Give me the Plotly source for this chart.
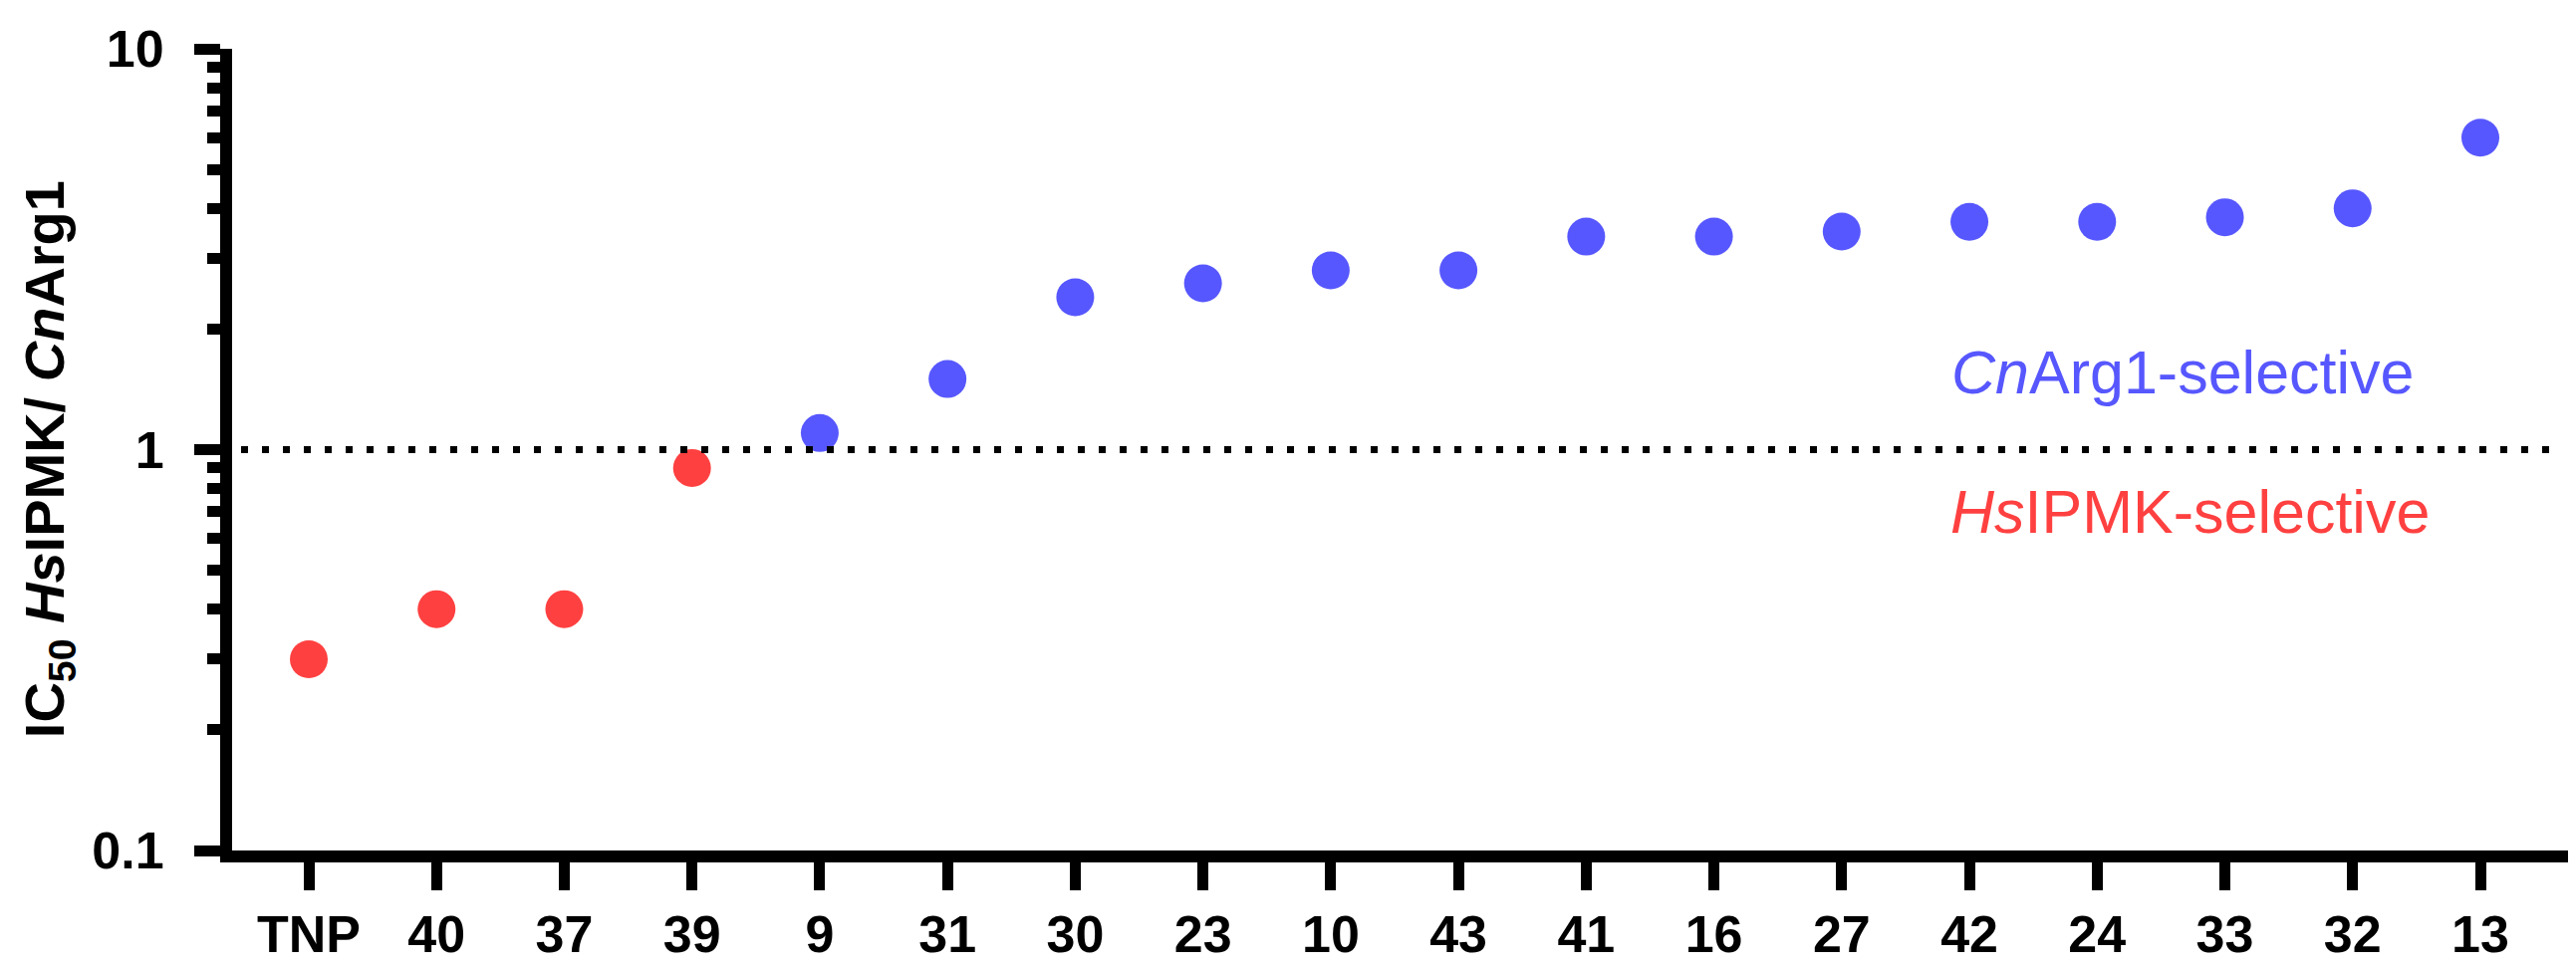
import plotly.graph_objects as go

# ── data ─────────────────────────────────────────────────────────────────────
compounds = ["TNP", "40", "37", "39", "9", "31", "30", "23", "10",
             "43", "41", "16", "27", "42", "24", "33", "32", "13"]
ic50_ratio = [0.30, 0.40, 0.40, 0.90, 1.10, 1.5, 2.4, 2.6, 2.8,
              2.8, 3.4, 3.4, 3.5, 3.7, 3.7, 3.8, 4.0, 6.0]

y_tickvals = [0.1, 1, 10]
y_ticktext = ["0.1", "1", "10"]
threshold = 1.0

BLUE = "#5757FF"
RED = "#FF4040"
FONT = "Liberation Sans, Arial, sans-serif"

# ── layout geometry (px) ─────────────────────────────────────────────────────
W, H = 2586, 971
L, R, T, B = 225, 13, 34, 103
plot_w = W - L - R
plot_h = H - T - B
step = 128.235  # px between categories

colors = [RED if v < threshold else BLUE for v in ic50_ratio]

fig = go.Figure()
fig.add_trace(go.Scatter(
    x=list(range(len(compounds))),
    y=ic50_ratio,
    mode="markers",
    marker=dict(size=38, color=colors, line=dict(width=0)),
    showlegend=False,
))

# dotted reference line at ratio = 1 (shape positions on log axes are data values)
fig.add_shape(
    type="line", xref="paper", yref="y",
    x0=(234 - L) / plot_w, x1=(2558 - L) / plot_w,
    y0=threshold, y1=threshold,
    line=dict(color="black", width=7, dash="7px,14px"),
    layer="above",
)

fig.add_annotation(
    text="<i>Cn</i>Arg1-selective", xref="paper", yref="paper",
    x=(2183 - L) / plot_w, y=(H - B - 371) / plot_h,
    xanchor="center", yanchor="middle", showarrow=False,
    font=dict(family=FONT, size=61, color=BLUE),
)
fig.add_annotation(
    text="<i>Hs</i>IPMK-selective", xref="paper", yref="paper",
    x=(2190 - L) / plot_w, y=(H - B - 516) / plot_h,
    xanchor="center", yanchor="middle", showarrow=False,
    font=dict(family=FONT, size=61, color=RED),
)
# y-axis title
fig.add_annotation(
    text="<b>IC<sub>50</sub> <i>Hs</i>IPMK/ <i>Cn</i>Arg1</b>",
    xref="paper", yref="paper",
    x=(40 - L) / plot_w, y=(H - B - 461) / plot_h,
    xanchor="center", yanchor="middle", textangle=-90, showarrow=False,
    font=dict(family=FONT, size=56, color="black"),
)

tick_font = dict(family=FONT, size=52, color="black", weight="bold")

fig.update_xaxes(
    range=[-77 / step, -77 / step + plot_w / step],
    tickmode="array",
    tickvals=list(range(len(compounds))),
    ticktext=compounds,
    ticks="outside", ticklen=28, tickwidth=11, tickcolor="black",
    showline=True, linewidth=12, linecolor="black",
    showgrid=False, zeroline=False,
    tickfont=tick_font,
)
fig.update_yaxes(
    type="log",
    range=[-1, 1],
    tickmode="array",
    tickvals=y_tickvals,
    ticktext=y_ticktext,
    ticks="outside", ticklen=26, tickwidth=11, tickcolor="black",
    ticklabelstandoff=20,
    minor=dict(dtick="D1", ticks="outside",
               ticklen=13, tickwidth=11, tickcolor="black", showgrid=False),
    showline=True, linewidth=12, linecolor="black",
    showgrid=False, zeroline=False,
    tickfont=tick_font,
)

fig.update_layout(
    width=W, height=H,
    margin=dict(l=L, r=R, t=T, b=B),
    plot_bgcolor="white",
    paper_bgcolor="white",
)

fig.write_html("out.html")
